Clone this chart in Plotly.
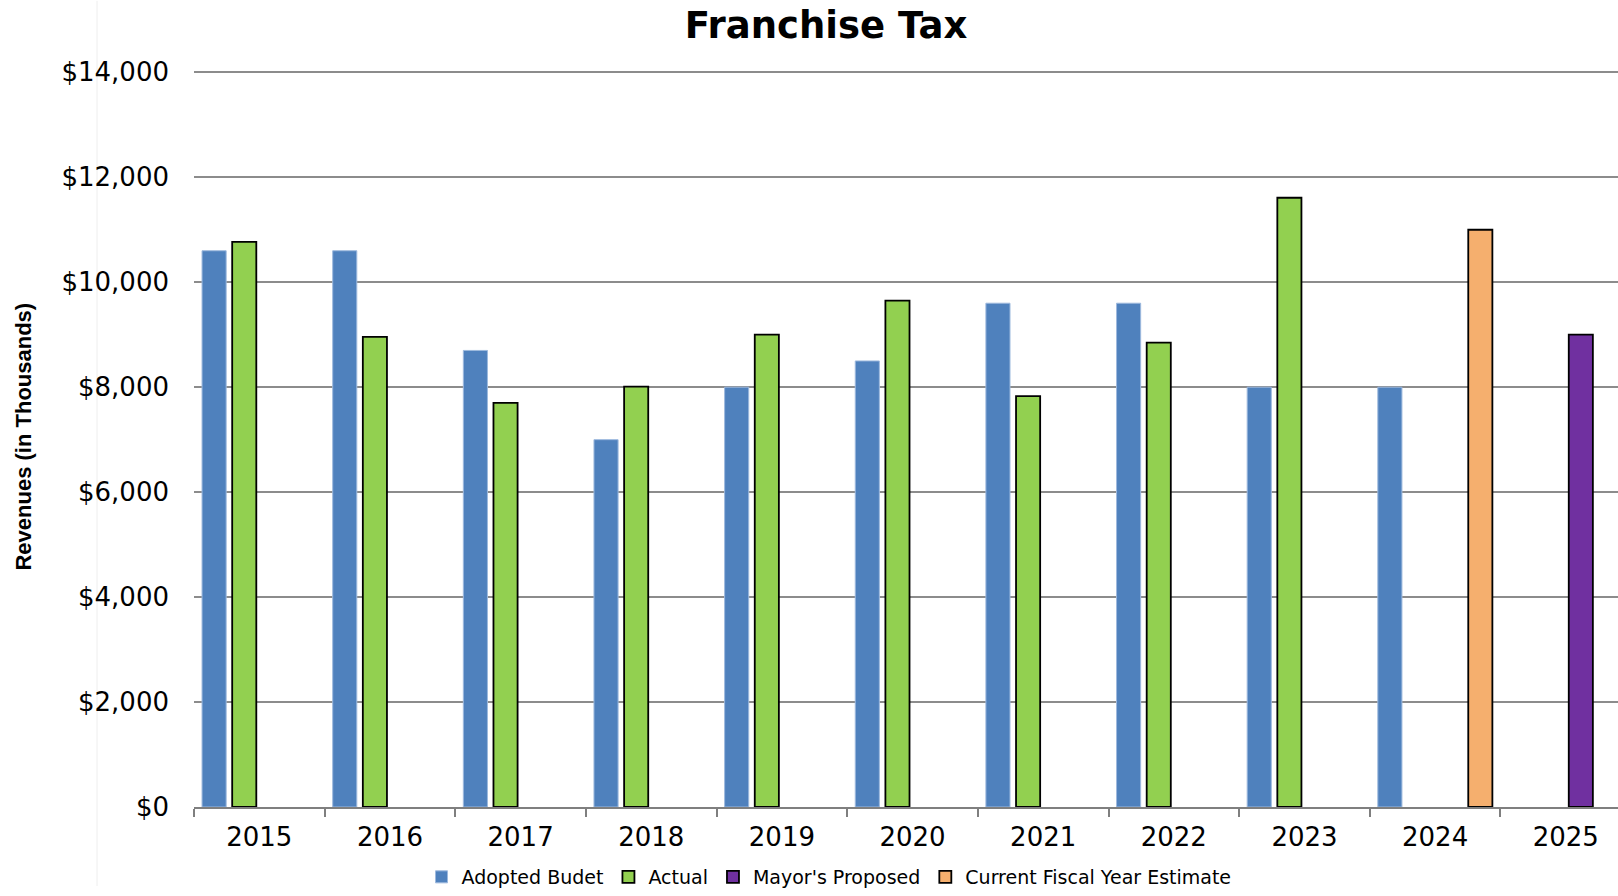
import plotly.graph_objects as go

years = ["2015", "2016", "2017", "2018", "2019", "2020", "2021", "2022", "2023", "2024", "2025"]
adopted_budget = [10600, 10600, 8700, 7000, 8000, 8500, 9600, 9600, 8000, 8000, None]
actual = [10770, 8960, 7700, 8010, 9000, 9650, 7830, 8850, 11610, None, None]
mayors_proposed = [None, None, None, None, None, None, None, None, None, None, 9000]
current_estimate = [None, None, None, None, None, None, None, None, None, 11000, None]
y_ticks = [0, 2000, 4000, 6000, 8000, 10000, 12000, 14000]
y_tick_labels = ["$0", "$2,000", "$4,000", "$6,000", "$8,000", "$10,000", "$12,000", "$14,000"]

W, H = 1618, 896
L, R, T = 194, 0, 71
B = H - 816
pw = W - L - R
ph = H - T - B

fig = go.Figure()
fig.add_trace(go.Bar(name="Adopted Budet", x=years, y=adopted_budget,
                     marker=dict(color="#4F81BD", line=dict(color="#9DB9DE", width=1))))
fig.add_trace(go.Bar(name="Actual", x=years, y=actual,
                     marker=dict(color="#92D050", line=dict(color="#000000", width=1.8))))
fig.add_trace(go.Bar(name="Mayor's Proposed", x=years, y=mayors_proposed,
                     marker=dict(color="#7030A0", line=dict(color="#000000", width=1.8))))
fig.add_trace(go.Bar(name="Current Fiscal Year Estimate", x=years, y=current_estimate,
                     marker=dict(color="#F5AF6E", line=dict(color="#000000", width=1.8))))

fig.update_layout(
    width=W, height=H,
    margin=dict(l=L, r=R, t=T, b=B, pad=0),
    paper_bgcolor="white", plot_bgcolor="white",
    barmode="group", bargap=0.077, bargroupgap=0.2,
    hovermode=False,
    title=dict(text="<b>Franchise Tax</b>", x=826 / W, xanchor="center",
               y=1 - 25 / H, yanchor="middle", yref="container",
               font=dict(family="DejaVu Sans", size=37, color="#000000")),
    showlegend=True,
    legend=dict(orientation="h", x=(829 - L) / pw, xanchor="center",
                y=-(887 - 816) / ph, yanchor="middle",
                font=dict(family="DejaVu Sans", size=19, color="#000000"),
                itemwidth=30, tracegroupgap=0, bgcolor="rgba(0,0,0,0)"),
    xaxis=dict(type="category", range=[-0.5, 10.4],
               showline=True, linecolor="#7f7f7f", linewidth=1.5,
               ticks="outside", tickson="boundaries", ticklen=8, tickcolor="#7f7f7f", tickwidth=1.5,
               ticklabelstandoff=6,
               tickfont=dict(family="DejaVu Sans", size=26, color="#000000"),
               showgrid=False, zeroline=False),
    yaxis=dict(range=[0, 14025], tickmode="array", tickvals=y_ticks, ticktext=y_tick_labels,
               showgrid=True, gridcolor="#8c8c8c", gridwidth=1.6,
               showline=False, zeroline=False, ticks="", ticklabelstandoff=24,
               tickfont=dict(family="DejaVu Sans", size=26, color="#000000")),
    annotations=[dict(text="<b>Revenues (in Thousands)</b>", textangle=-90,
                      xref="paper", yref="paper", x=(24 - L) / pw, y=(816 - 441) / ph,
                      xanchor="center", yanchor="middle", showarrow=False,
                      font=dict(family="Liberation Sans", size=22, color="#000000"))],
    shapes=[dict(type="line", xref="paper", yref="paper",
                 x0=(97 - L) / pw, x1=(97 - L) / pw, y0=-B / ph, y1=(H - B) / ph,
                 line=dict(color="#eeeeee", width=1), layer="below")],
)

fig.write_html("out.html", config={"displayModeBar": False},
               post_script="document.body.style.margin='0';document.body.style.overflow='hidden';")
